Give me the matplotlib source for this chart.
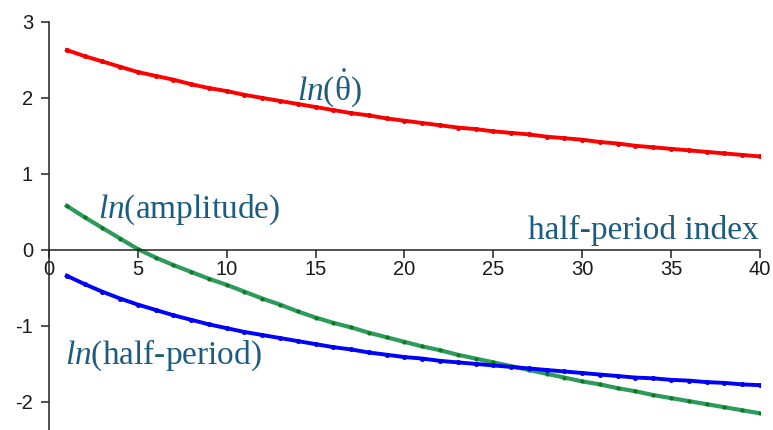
import matplotlib.pyplot as plt
import numpy as np

plt.rcParams['mathtext.fontset'] = 'custom'
plt.rcParams['mathtext.rm'] = 'Liberation Serif'
plt.rcParams['mathtext.it'] = 'Liberation Serif:italic'
plt.rcParams['axes.unicode_minus'] = False

# half-period index 1..40
index = np.arange(1, 41)

ln_theta_dot = [2.63, 2.55, 2.48, 2.41, 2.34, 2.29, 2.24, 2.18, 2.13, 2.09,
                2.04, 2.00, 1.96, 1.92, 1.88, 1.84, 1.80, 1.77, 1.73, 1.70,
                1.67, 1.64, 1.61, 1.59, 1.56, 1.54, 1.52, 1.49, 1.47, 1.45,
                1.42, 1.40, 1.37, 1.35, 1.33, 1.31, 1.29, 1.27, 1.25, 1.23]

ln_amplitude = [0.58, 0.43, 0.29, 0.15, 0.01, -0.10, -0.20, -0.29, -0.38, -0.46,
                -0.55, -0.64, -0.72, -0.81, -0.89, -0.96, -1.02, -1.09, -1.15, -1.21,
                -1.27, -1.32, -1.38, -1.43, -1.48, -1.53, -1.58, -1.63, -1.68, -1.73,
                -1.77, -1.82, -1.86, -1.91, -1.95, -1.99, -2.03, -2.07, -2.11, -2.15]

ln_half_period = [-0.34, -0.45, -0.55, -0.64, -0.72, -0.79, -0.86, -0.92, -0.98, -1.03,
                  -1.08, -1.12, -1.16, -1.20, -1.24, -1.28, -1.31, -1.35, -1.38, -1.41,
                  -1.43, -1.46, -1.48, -1.50, -1.52, -1.54, -1.56, -1.58, -1.60, -1.62,
                  -1.64, -1.66, -1.68, -1.69, -1.71, -1.72, -1.74, -1.75, -1.77, -1.78]

x_ticks = [0, 5, 10, 15, 20, 25, 30, 35, 40]
y_ticks = [-2, -1, 0, 1, 2, 3]

label_color = '#1d5c82'
label_font = 'Liberation Serif'
label_size = 24

fig = plt.figure(figsize=(7.73, 4.30), dpi=100)
ax = fig.add_axes([0.0634, 0.0, 0.9196, 0.949])

ax.plot(index, ln_theta_dot, color='#ff0000', lw=2.8, marker='o', ms=2.6,
        mfc='#ee0000', mec='#ee0000')
ax.plot(index, ln_amplitude, color='#2e9a5e', lw=3.0, marker='o', ms=2.0,
        mfc='#0a7a1a', mec='#0a7a1a')
ax.plot(index, ln_half_period, color='#0000ff', lw=2.8, marker='o', ms=2.6,
        mfc='#0000ee', mec='#0000ee')

ax.set_xlim(0, 40)
ax.set_ylim(-2.37, 3)
ax.set_xticks(x_ticks)
ax.set_yticks(y_ticks)

ax.spines['top'].set_visible(False)
ax.spines['right'].set_visible(False)
ax.spines['bottom'].set_position(('data', 0))
ax.spines['left'].set_position(('data', 0))
for s in ('bottom', 'left'):
    ax.spines[s].set_linewidth(1.1)
    ax.spines[s].set_color('#222222')

ax.tick_params(axis='both', direction='out', length=5.5, width=1.1,
               color='#222222', labelsize=14.5, labelcolor='#1a1a1a',
               labelfontfamily='Liberation Sans')
ax.tick_params(axis='x', pad=2)
ax.tick_params(axis='y', pad=6)

ax.text(13.95, 2.13, r'$ln$(' + r'$\dot{\mathrm{\theta}}$' + ')', fontsize=label_size,
        color=label_color, family=label_font, va='center', ha='left')
ax.text(2.76, 0.53, r'$ln$(amplitude)', fontsize=label_size,
        color=label_color, family=label_font, va='center', ha='left')
ax.text(39.95, 0.26, 'half-period index', fontsize=label_size,
        color=label_color, family=label_font, va='center', ha='right')
ax.text(0.9, -1.38, r'$ln$(half-period)', fontsize=label_size,
        color=label_color, family=label_font, va='center', ha='left')

fig.savefig('out.png', dpi=100)
